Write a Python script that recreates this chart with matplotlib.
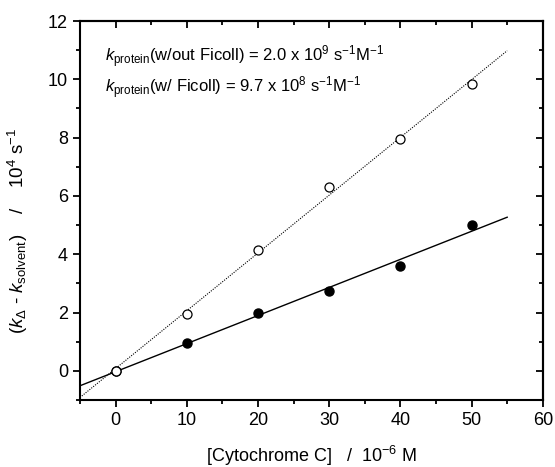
import matplotlib
matplotlib.use("Agg")
import matplotlib.pyplot as plt
import numpy as np
from matplotlib.ticker import MultipleLocator

plt.rcParams["font.family"] = ["Liberation Sans", "DejaVu Sans"]
plt.rcParams["mathtext.fontset"] = "custom"
plt.rcParams["mathtext.rm"] = "Liberation Sans"
plt.rcParams["mathtext.it"] = "Liberation Sans:italic"
plt.rcParams["mathtext.sf"] = "Liberation Sans"

# concentration of cytochrome c (10^-6 M)
conc = [0, 10, 20, 30, 40, 50]
# rate without Ficoll (open circles)
rate_no_ficoll = [0.0, 1.95, 4.15, 6.3, 7.95, 9.85]
# rate with Ficoll (filled circles)
rate_ficoll = [0.0, 0.95, 1.97, 2.75, 3.6, 5.0]

fit_range = [-5, 55]

fig = plt.figure(figsize=(5.55, 4.67), dpi=100)
ax = fig.add_axes([0.144, 0.1435, 0.834, 0.8115])

xf = np.array(fit_range)
p_open = np.polyfit(conc, rate_no_ficoll, 1)
p_fill = np.polyfit(conc, rate_ficoll, 1)
ax.plot(xf, np.polyval(p_open, xf), color="black", lw=0.8, ls=(0, (1, 1.2)))
ax.plot(xf, np.polyval(p_fill, xf), color="black", lw=1.0)

ax.plot(conc, rate_ficoll, "o", color="black", ms=6.5, zorder=3)
ax.plot(conc, rate_no_ficoll, "o", mfc="white", mec="black", mew=0.9, ms=6.5, zorder=4)

ax.set_xlim(-5, 60)
ax.set_ylim(-1, 12)
ax.xaxis.set_major_locator(MultipleLocator(10))
ax.xaxis.set_minor_locator(MultipleLocator(5))
ax.yaxis.set_major_locator(MultipleLocator(2))
ax.yaxis.set_minor_locator(MultipleLocator(1))
ax.tick_params(which="both", direction="out", width=1.3, labelsize=13,
               top=False, right=False)
ax.tick_params(which="major", length=5)
ax.tick_params(which="minor", length=3)
for s in ax.spines.values():
    s.set_linewidth(1.5)

# mirrored ticks pointing in on top and right
top = ax.secondary_xaxis("top")
top.xaxis.set_major_locator(MultipleLocator(10))
top.xaxis.set_minor_locator(MultipleLocator(5))
top.tick_params(which="both", direction="in", width=1.3, labeltop=False)
top.tick_params(which="major", length=5)
top.tick_params(which="minor", length=3)
top.spines["top"].set_linewidth(1.5)
right = ax.secondary_yaxis("right")
right.yaxis.set_major_locator(MultipleLocator(2))
right.yaxis.set_minor_locator(MultipleLocator(1))
right.tick_params(which="both", direction="in", width=1.3, labelright=False)
right.tick_params(which="major", length=5)
right.tick_params(which="minor", length=3)
right.spines["right"].set_linewidth(1.5)

ax.set_xlabel(r"[Cytochrome C]   /  10$^{-6}$ M", fontsize=13, labelpad=11)
ax.set_ylabel(r"($k_{\Delta}$ - $k_{\mathrm{solvent}}$)    /    10$^{4}$ s$^{-1}$",
              fontsize=13.5)
ax.yaxis.set_label_coords(-0.108, 0.446)

ax.text(0.054, 0.892,
        r"$k_{\mathrm{protein}}$(w/out Ficoll) = 2.0 x 10$^{9}$ s$^{-1}$M$^{-1}$",
        transform=ax.transAxes, fontsize=12, va="baseline")
ax.text(0.054, 0.81,
        r"$k_{\mathrm{protein}}$(w/ Ficoll) = 9.7 x 10$^{8}$ s$^{-1}$M$^{-1}$",
        transform=ax.transAxes, fontsize=12, va="baseline")

fig.savefig("out.png", dpi=100)
